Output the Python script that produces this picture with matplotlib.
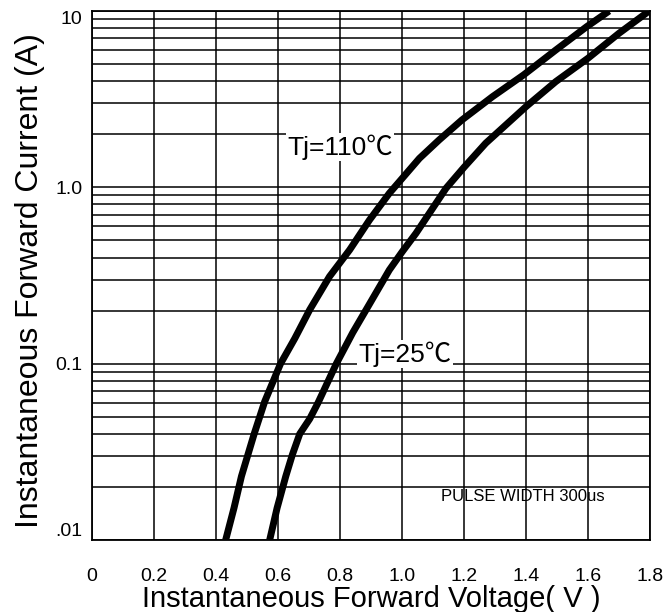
import numpy as np
import matplotlib.pyplot as plt
from matplotlib.ticker import FixedLocator, LogLocator, NullFormatter

# forward characteristics
v_110 = [0.431, 0.458, 0.482, 0.523, 0.557, 0.608, 0.654, 0.702, 0.766, 0.831,
         0.895, 0.959, 1.056, 1.120, 1.193, 1.292, 1.392, 1.496, 1.596, 1.668]
i_110 = [0.010, 0.0152, 0.023, 0.040, 0.061, 0.100, 0.139, 0.202, 0.312, 0.442,
         0.653, 0.926, 1.46, 1.86, 2.41, 3.27, 4.34, 6.01, 8.16, 10.0]

v_25 = [0.573, 0.597, 0.625, 0.646, 0.670, 0.702, 0.729, 0.788, 0.841, 0.895,
        0.959, 1.000, 1.045, 1.142, 1.200, 1.270, 1.400, 1.496, 1.600, 1.700, 1.797]
i_25 = [0.010, 0.0152, 0.023, 0.0304, 0.040, 0.0486, 0.060, 0.100, 0.150, 0.218,
        0.340, 0.430, 0.549, 0.989, 1.30, 1.78, 2.87, 3.98, 5.40, 7.48, 10.0]

x_ticks = [0, 0.2, 0.4, 0.6, 0.8, 1.0, 1.2, 1.4, 1.6, 1.8]
x_labels = ['0', '0.2', '0.4', '0.6', '0.8', '1.0', '1.2', '1.4', '1.6', '1.8']
y_ticks = [0.01, 0.1, 1, 10]
y_labels = ['.01', '0.1', '1.0', '10']

plt.rcParams['font.family'] = ['Liberation Sans', 'DejaVu Sans']

fig = plt.figure(figsize=(6.64, 6.12), dpi=100)
ax = fig.add_axes([0.1386, 0.1176, 0.8404, 0.8644])

ax.set_yscale('log')
ax.set_xlim(0, 1.8)
ax.set_ylim(0.01, 10)

ax.xaxis.set_major_locator(FixedLocator(x_ticks))
ax.set_xticklabels(x_labels)
ax.yaxis.set_major_locator(FixedLocator(y_ticks))
ax.yaxis.set_minor_locator(LogLocator(base=10, subs=np.arange(2, 10)))
ax.yaxis.set_minor_formatter(NullFormatter())
ax.set_yticklabels(y_labels)
ylabs = ax.get_yticklabels()
ylabs[0].set_va('bottom')
ylabs[-1].set_va('top')

ax.grid(True, which='both', color='black', lw=1.1)
ax.tick_params(axis='both', which='both', length=0, labelsize=14)
ax.tick_params(axis='x', pad=20)
ax.tick_params(axis='y', pad=7)
for s in ax.spines.values():
    s.set_linewidth(1.3)

ax.plot(v_110, i_110, color='black', lw=5, solid_capstyle='butt', solid_joinstyle='round', zorder=3)
ax.plot(v_25, i_25, color='black', lw=5, solid_capstyle='butt', solid_joinstyle='round', zorder=3)

lab_font = ['Liberation Sans', 'Noto Sans CJK SC']
ax.text(0.80, 1.69, 'Tj=110℃', fontsize=19, family=lab_font, ha='center', va='center',
        bbox=dict(facecolor='white', edgecolor='none', pad=1), zorder=4)
ax.text(1.01, 0.1135, 'Tj=25℃', fontsize=19, family=lab_font, ha='center', va='center',
        bbox=dict(facecolor='white', edgecolor='none', pad=1), zorder=4)
ax.text(1.652, 0.01754, 'PULSE WIDTH 300us', fontsize=12,
        family=['Liberation Sans Narrow', 'Liberation Sans'], ha='right', va='center', zorder=4)

ax.set_xlabel('Instantaneous Forward Voltage( V )', fontsize=21, labelpad=0)
ax.set_ylabel('Instantaneous Forward Current (A)', fontsize=23)
ax.yaxis.set_label_coords(-0.084, 0.49)

fig.savefig('out.png', dpi=100)
